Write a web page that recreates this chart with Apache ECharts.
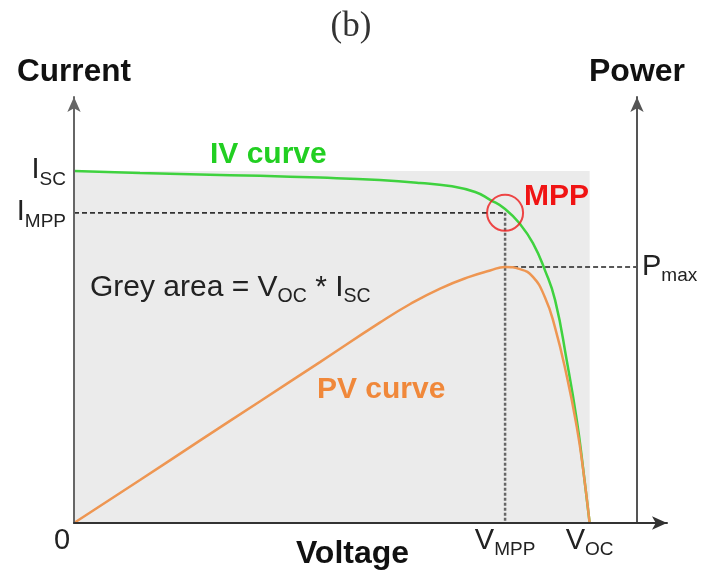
<!DOCTYPE html>
<html>
<head>
<meta charset="utf-8">
<script src="https://cdn.jsdelivr.net/npm/echarts@6/dist/echarts.min.js"></script>
<style>
  html, body { margin: 0; padding: 0; background: #fff; }
  #chart { width: 702px; height: 575px; }
</style>
</head>
<body>
<div id="chart"></div>
<script>
// Solar cell I-V and P-V characteristics (normalised: V_OC = 1, I_SC = 1)
const ivVoltage = [0, 0.128, 0.244, 0.361, 0.477, 0.593, 0.671, 0.729, 0.778, 0.807, 0.836, 0.865, 0.890, 0.913, 0.933, 0.956, 0.975, 0.987, 1.0];
const ivCurrent = [1.0, 0.994, 0.990, 0.986, 0.981, 0.974, 0.966, 0.957, 0.940, 0.918, 0.892, 0.849, 0.795, 0.719, 0.633, 0.458, 0.293, 0.159, 0];

const pvVoltage = [0, 0.128, 0.244, 0.361, 0.477, 0.593, 0.652, 0.710, 0.768, 0.807, 0.836, 0.865, 0.890, 0.913, 0.932, 0.956, 0.975, 0.987, 1.0];
const pvPower   = [0, 0.122, 0.234, 0.346, 0.457, 0.569, 0.622, 0.666, 0.700, 0.717, 0.727, 0.721, 0.699, 0.642, 0.560, 0.415, 0.273, 0.156, 0];

// Characteristic points
const V_OC = 1.0;
const I_SC = 1.0;
const V_MPP = 0.836;
const I_MPP = 0.881;
const P_MAX = 0.727;

// Axis extents
const X_MAX = 1.15;
const Y_MAX = 1.21;
const POWER_AXIS_V = 1.092;   // voltage at which the power axis stands

const FONT = 'Liberation Sans, Arial, sans-serif';
const zip = (a, b) => a.map((v, i) => [v, b[i]]);

// main symbol + lowered subscript
const labelRich = {
  m: { fontSize: 29, fontFamily: FONT, color: '#222', lineHeight: 30, verticalAlign: 'top' },
  s: { fontSize: 19, fontFamily: FONT, color: '#222', lineHeight: 19, verticalAlign: 'top', padding: [14, 0, 0, 0] },
  su: { fontSize: 19, fontFamily: FONT, color: '#222', lineHeight: 19, verticalAlign: 'top', padding: [14, 0, 8, 0] },
  z: { fontSize: 29, fontFamily: FONT, color: '#222', lineHeight: 30, padding: [0, 24, 0, 0] }
};

const chart = echarts.init(document.getElementById('chart'), null, { renderer: 'canvas' });

chart.setOption({
  animation: false,
  backgroundColor: '#fff',
  title: {
    text: '(b)',
    left: 'center',
    top: 4,
    textStyle: { fontFamily: 'Liberation Serif, DejaVu Serif, serif', fontSize: 35, fontWeight: 'normal', color: '#333' }
  },
  grid: { left: 74, right: 35, top: 97, bottom: 52, outerBoundsMode: 'none', containLabel: false },
  xAxis: {
    type: 'value',
    min: 0,
    max: X_MAX,
    z: 5,
    name: 'Voltage',
    nameLocation: 'middle',
    nameGap: 15,
    nameMoveOverlap: false,
    nameTextStyle: { fontFamily: FONT, fontSize: 32, fontWeight: 'bold', color: '#111', padding: [0, 36, 0, 0] },
    axisLine: { lineStyle: { color: '#333', width: 2 }, symbol: ['none', 'arrow'], symbolSize: [10, 15] },
    axisTick: { show: false },
    splitLine: { show: false },
    axisLabel: {
      customValues: [0, V_MPP, V_OC],
      margin: 3,
      hideOverlap: false,
      formatter: v => v === 0 ? '{z|0}' : (v === V_MPP ? '{m|V}{s|MPP}' : '{m|V}{s|OC}'),
      rich: labelRich
    }
  },
  yAxis: [
    {
      type: 'value',
      position: 'left',
      min: 0,
      max: Y_MAX,
      z: 5,
      name: 'Current',
      nameLocation: 'end',
      nameGap: 9,
      nameMoveOverlap: false,
      nameTextStyle: { fontFamily: FONT, fontSize: 31.5, fontWeight: 'bold', color: '#111' },
      axisLine: { show: true, lineStyle: { color: '#666', width: 2 }, symbol: ['none', 'arrow'], symbolSize: [10, 15] },
      axisTick: { show: false },
      splitLine: { show: false },
      axisLabel: {
        customValues: [I_MPP, I_SC],
        margin: 8,
        hideOverlap: false,
        formatter: v => v === I_SC ? '{m|I}{su|SC}' : '{m|I}{s|MPP}',
        rich: labelRich
      }
    },
    {
      type: 'value',
      position: 'right',
      offset: -30,
      min: 0,
      max: Y_MAX,
      z: 5,
      name: 'Power',
      nameLocation: 'end',
      nameGap: 9,
      nameMoveOverlap: false,
      nameTextStyle: { fontFamily: FONT, fontSize: 32, fontWeight: 'bold', color: '#111' },
      axisLine: { show: true, lineStyle: { color: '#555', width: 2 }, symbol: ['none', 'arrow'], symbolSize: [10, 15] },
      axisTick: { show: false },
      splitLine: { show: false },
      axisLabel: {
        customValues: [P_MAX],
        margin: 5,
        hideOverlap: false,
        formatter: () => '{m|P}{s|max}',
        rich: labelRich
      }
    }
  ],
  series: [
    {
      name: 'IV curve',
      type: 'line',
      smooth: 0.5,
      symbol: 'none',
      z: 4,
      data: zip(ivVoltage, ivCurrent),
      lineStyle: { color: '#3fd23f', width: 2.5 },
      markArea: {
        silent: true,
        itemStyle: { color: '#ebebeb' },
        data: [[{ coord: [0, 0] }, { coord: [V_OC, I_SC] }]]
      }
    },
    {
      name: 'PV curve',
      type: 'line',
      yAxisIndex: 1,
      smooth: 0.5,
      symbol: 'none',
      z: 4,
      data: zip(pvVoltage, pvPower),
      lineStyle: { color: '#ee9652', width: 2.5 }
    },
    {
      name: 'I_MPP guide',
      type: 'line',
      symbol: 'none',
      z: 3,
      data: [[0, I_MPP], [V_MPP, I_MPP]],
      lineStyle: { color: '#333', width: 1.6, type: [5, 3] }
    },
    {
      name: 'V_MPP guide',
      type: 'line',
      symbol: 'none',
      z: 3,
      data: [[V_MPP, I_MPP], [V_MPP, 0]],
      lineStyle: { color: '#666', width: 2.5, type: [3, 2] }
    },
    {
      name: 'Pmax guide',
      type: 'line',
      yAxisIndex: 1,
      symbol: 'none',
      z: 3,
      data: [[V_MPP, P_MAX], [POWER_AXIS_V, P_MAX]],
      lineStyle: { color: '#222', width: 1.6, type: [5, 3] }
    },
    {
      name: 'MPP',
      type: 'scatter',
      z: 6,
      symbol: 'circle',
      symbolSize: 36,
      data: [[V_MPP, I_MPP]],
      itemStyle: { color: 'rgba(0,0,0,0)', borderColor: '#ee1c1c', borderWidth: 2 }
    }
  ],
  graphic: [
    {
      type: 'text', left: 210, top: 140, z: 10,
      style: { text: 'IV curve', fontFamily: FONT, fontSize: 30, fontWeight: 'bold', fill: '#22cf22' }
    },
    {
      type: 'text', left: 524, top: 182, z: 10,
      style: { text: 'MPP', fontFamily: FONT, fontSize: 30, fontWeight: 'bold', fill: '#f01414' }
    },
    {
      type: 'text', left: 317, top: 375, z: 10,
      style: { text: 'PV curve', fontFamily: FONT, fontSize: 30, fontWeight: 'bold', fill: '#f0883a' }
    },
    {
      type: 'text', left: 90, top: 273, z: 10,
      style: {
        text: '{a|Grey area = V}{s|OC}{a| * I}{s|SC}',
        rich: {
          a: { fontSize: 30, fontFamily: FONT, fill: '#222', lineHeight: 30, verticalAlign: 'top' },
          s: { fontSize: 19.5, fontFamily: FONT, fill: '#222', lineHeight: 19, verticalAlign: 'top', padding: [14, 0, 0, 0] }
        }
      }
    }
  ]
});
</script>
</body>
</html>
